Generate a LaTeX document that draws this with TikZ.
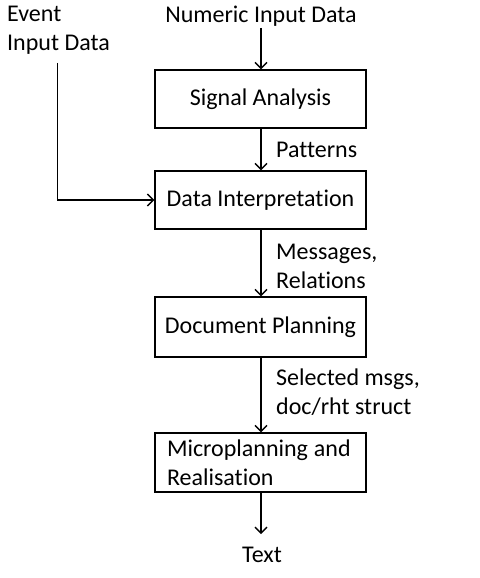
\documentclass[tikz,border=0pt]{standalone}
\usepackage{fontspec}
\setmainfont[Ligatures={NoCommon}]{Carlito}
\usetikzlibrary{arrows.meta}
\begin{document}
\begin{tikzpicture}[x=1pt,y=-1pt,
  every node/.style={font=\fontsize{24}{29}\selectfont, inner sep=0pt},
  box/.style={draw, line width=1.4pt, minimum width=211pt, inner sep=0pt},
  conn/.style={line width=1.4pt, -{Straight Barb[length=6pt,width=12pt,line width=1.4pt]}}
]
\useasboundingbox (0,0) rectangle (479,578);
\node[box, minimum height=58pt] (b1) at (260.5,99) {Signal Analysis};
\node[box, minimum height=58pt] (b2) at (260.5,200) {Data Interpretation};
\node[box, minimum height=60pt] (b3) at (260.5,327) {Document Planning};
\node[box, minimum height=59pt, text width=187pt, inner xsep=12pt, align=left] (b4) at (260.5,462.5) {Microplanning\hspace{-2pt} and\\Realisation};
\node (num) at (261,16) {Numeric Input Data};
\node[align=left, anchor=north west] (event) at (7,6) {Event\\Input Data};
\node (text) at (262,555) {Text};
\node[anchor=west] (pat) at (276,150) {Patterns};
\node[anchor=west, align=left] (msg) at (276,266) {Messages,\\Relations};
\node[anchor=west, align=left] (sel) at (276,392) {Selected msgs,\\doc/rht struct};
\coordinate (numend) at (261,28);
\coordinate (evstart) at (57.5,63);
\coordinate (textend) at (261,534);
\draw[conn] (numend) -- (b1.north -| numend);
\draw[conn] (b1.south -| numend) -- (b2.north -| numend);
\draw[conn] (evstart) |- (b2.west);
\draw[conn] (b2.south -| numend) -- (b3.north -| numend);
\draw[conn] (b3.south -| numend) -- (b4.north -| numend);
\draw[conn] (b4.south -| numend) -- (textend);
\end{tikzpicture}
\end{document}
